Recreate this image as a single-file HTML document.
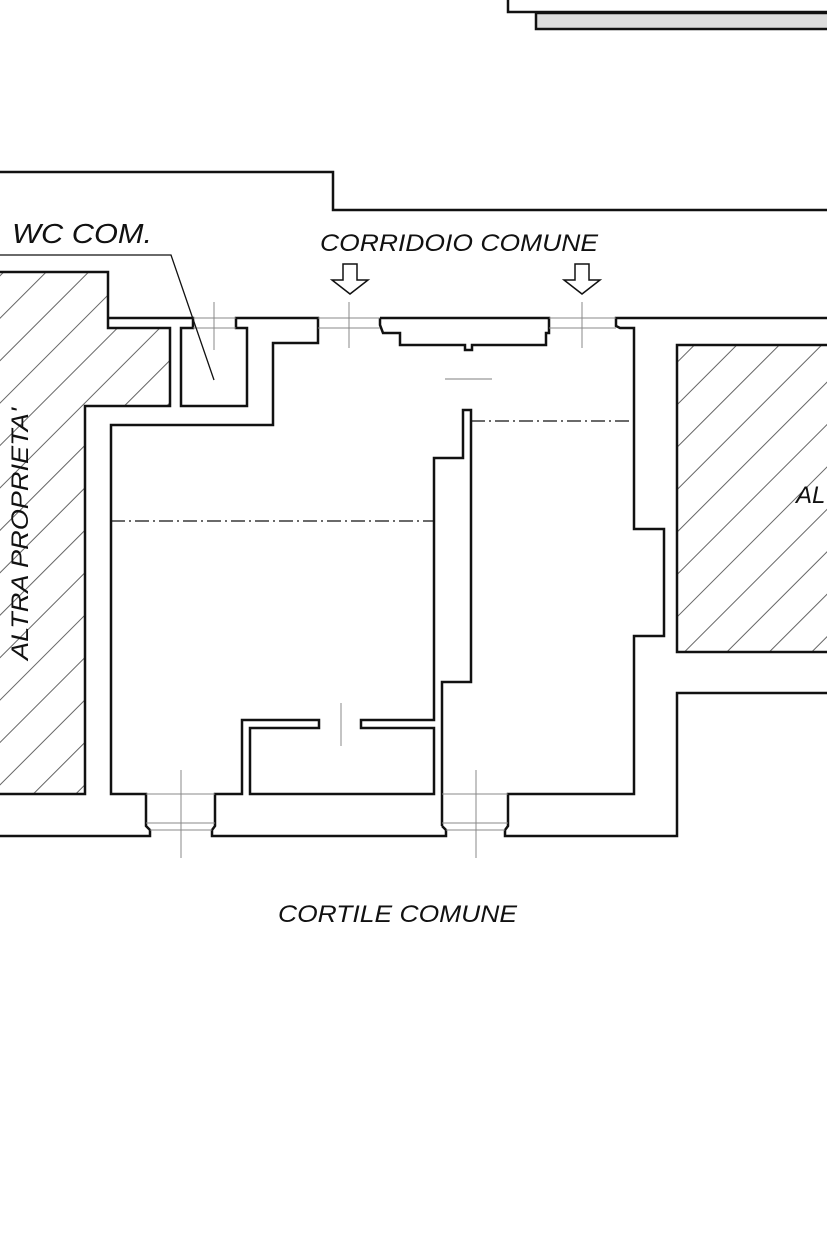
<!DOCTYPE html>
<html><head><meta charset="utf-8"><style>
html,body{margin:0;padding:0;background:#fff;width:827px;height:1240px;overflow:hidden}
svg{display:block}
text{font-family:"Liberation Sans",sans-serif;font-style:italic;fill:#111}
</style></head><body>
<svg width="827" height="1240" viewBox="0 0 827 1240" xmlns="http://www.w3.org/2000/svg">
<defs>
<pattern id="h" patternUnits="userSpaceOnUse" width="30" height="30" patternTransform="rotate(45)">
<line x1="15" y1="0" x2="15" y2="30" stroke="#666" stroke-width="1"/>
</pattern>
</defs>
<polyline points="508,0 508,12 827,12" fill="none" stroke="#111" stroke-width="2.5"/>
<rect x="536" y="13" width="295" height="16" fill="#ddd" stroke="#111" stroke-width="2.5"/>
<polyline points="0,172 333,172 333,210 827,210" fill="none" stroke="#111" stroke-width="2.5"/>
<polygon points="0,272 108,272 108,328 170,328 170,406 85,406 85,794 0,794" fill="url(#h)" stroke="none"/>
<polyline points="0,272 108,272 108,318" fill="none" stroke="#111" stroke-width="2.5"/>
<polyline points="108,318 108,328 170,328 170,406 85,406 85,794 0,794" fill="none" stroke="#111" stroke-width="2.5"/>
<rect x="677" y="345" width="160" height="307" fill="url(#h)" stroke="#111" stroke-width="2.5"/>
<g fill="none" stroke="#111" stroke-width="2.5">
<polyline points="108,318 193,318 193,328 181,328 181,406 247,406 247,328 236,328 236,318 318,318 318,343 273,343 273,425 111,425 111,794 146,794 146,826 150,830 150,836 0,836"/>
<polyline points="380,318 549,318 549,333 546,333 546,345 472,345 472,350 465,350 465,345 400,345 400,333 383,333 380,325 380,318"/>
<polyline points="827,318 616,318 616,326 620,328 634,328 634,529 664,529 664,636 634,636 634,794 508,794 508,826 505,830 505,836 677,836 677,693 827,693"/>
<polyline points="442,826 446,830 446,836 212,836 212,830 215,826 215,794 242,794 242,720 319,720 319,728 250,728 250,794 434,794 434,728 361,728 361,720 434,720 434,458 463,458 463,410 471,410 471,682 442,682 442,826"/>
</g>
<g stroke="#888" stroke-width="1" fill="none">
<line x1="193" y1="318" x2="236" y2="318"/><line x1="193" y1="328" x2="236" y2="328"/>
<line x1="318" y1="318" x2="380" y2="318"/><line x1="318" y1="328" x2="380" y2="328"/>
<line x1="549" y1="318" x2="616" y2="318"/><line x1="549" y1="328" x2="616" y2="328"/>
<line x1="214" y1="302" x2="214" y2="350"/>
<line x1="349" y1="302" x2="349" y2="348"/>
<line x1="582" y1="302" x2="582" y2="348"/>
<line x1="445" y1="379" x2="492" y2="379" stroke="#aaa" stroke-width="1.5"/>
<line x1="341" y1="703" x2="341" y2="746"/>
<line x1="146" y1="794" x2="215" y2="794"/><line x1="146" y1="823" x2="215" y2="823"/><line x1="150" y1="830" x2="212" y2="830"/>
<line x1="442" y1="794" x2="508" y2="794"/><line x1="442" y1="823" x2="508" y2="823"/><line x1="446" y1="830" x2="505" y2="830"/>
<line x1="181" y1="770" x2="181" y2="858"/>
<line x1="476" y1="770" x2="476" y2="858"/>
</g>
<g stroke="#111" stroke-width="1.2" stroke-dasharray="14,4,2,4" fill="none">
<line x1="111" y1="521" x2="434" y2="521"/>
<line x1="471" y1="421" x2="634" y2="421"/>
</g>
<polyline points="0,255 171,255 214,380" fill="none" stroke="#111" stroke-width="1.3"/>
<g fill="#fff" stroke="#111" stroke-width="1.5">
<polygon points="343,264 357,264 357,280 368,280 350,294 332,280 343,280"/>
<polygon points="575,264 589,264 589,280 600,280 582,294 564,280 575,280"/>
</g>
<text x="12" y="243" font-size="28" textLength="140" lengthAdjust="spacingAndGlyphs">WC COM.</text>
<text x="320" y="251" font-size="24" textLength="278" lengthAdjust="spacingAndGlyphs">CORRIDOIO COMUNE</text>
<text x="278" y="922" font-size="24" textLength="239" lengthAdjust="spacingAndGlyphs">CORTILE COMUNE</text>
<text x="796" y="503" font-size="24">AL</text>
<text transform="translate(28,660) rotate(-90)" font-size="24" textLength="252" lengthAdjust="spacingAndGlyphs">ALTRA PROPRIETA'</text>
</svg>
</body></html>
